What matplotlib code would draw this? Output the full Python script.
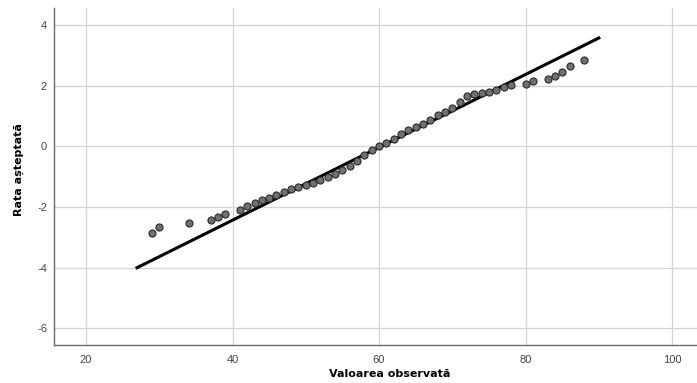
import matplotlib.pyplot as plt

# observed values (distinct) and expected normal values
observed = [29, 30, 34, 37, 38, 39, 41, 42, 43, 44, 45, 46, 47, 48, 49, 50,
            51, 52, 53, 54, 55, 56, 57, 58, 59, 60, 61, 62, 63, 64, 65, 66,
            67, 68, 69, 70, 71, 72, 73, 74, 75, 76, 77, 78, 80, 81, 83, 84,
            85, 86, 88]
expected = [-2.87, -2.64, -2.51, -2.41, -2.32, -2.22, -2.09, -1.96, -1.86,
            -1.78, -1.69, -1.59, -1.49, -1.40, -1.32, -1.26, -1.20, -1.12,
            -1.02, -0.91, -0.77, -0.66, -0.47, -0.28, -0.11, 0.00, 0.11,
            0.25, 0.41, 0.54, 0.65, 0.74, 0.87, 1.04, 1.15, 1.28, 1.48,
            1.65, 1.72, 1.77, 1.81, 1.87, 1.95, 2.02, 2.07, 2.15, 2.24,
            2.32, 2.45, 2.65, 2.87]

# reference normal line
line_x = [26.96, 90.0]
line_y = [-4.0, 3.58]

x_ticks = [20, 40, 60, 80, 100]
y_ticks = [-6, -4, -2, 0, 2, 4]

plt.rcParams["font.family"] = ["Liberation Sans", "DejaVu Sans"]
plt.rcParams["axes.unicode_minus"] = False

fig = plt.figure(figsize=(6.97, 3.83), dpi=100)
ax = fig.add_axes([54 / 697, 1 - 345 / 383, 1 - 54 / 697, 337 / 383])

ax.plot(line_x, line_y, color="black", linewidth=2.2, zorder=3)
ax.scatter(observed, expected, s=26, facecolor="#707070",
           edgecolor="#2a2a2a", linewidth=0.8, zorder=4)

ax.set_xlim(15.63, 103.4)
ax.set_ylim(-6.55, 4.57)
ax.set_xticks(x_ticks)
ax.set_yticks(y_ticks)
ax.grid(True, color="#d4d4d4", linewidth=0.9)
ax.set_axisbelow(True)

for side in ["top", "right"]:
    ax.spines[side].set_visible(False)
for side in ["left", "bottom"]:
    ax.spines[side].set_color("#6a6a6a")
    ax.spines[side].set_linewidth(1.0)

ax.tick_params(length=0, labelsize=8, labelcolor="#444444")
ax.tick_params(axis="x", pad=7)
ax.tick_params(axis="y", pad=5)

# axis titles in a wide bold face, placed where the reference has them
ax.set_xlabel("Valoarea observată", fontsize=8, fontweight="bold",
              family="DejaVu Sans")
ax.set_ylabel("Rata așteptată", fontsize=8, fontweight="bold",
              family="DejaVu Sans")
ax.xaxis.set_label_coords(0.522, -0.086)
ax.yaxis.set_label_coords(-0.0544, 0.521)
ax.xaxis.label.set_va("center")
ax.yaxis.label.set_va("center")

plt.savefig("out.png", dpi=100)
